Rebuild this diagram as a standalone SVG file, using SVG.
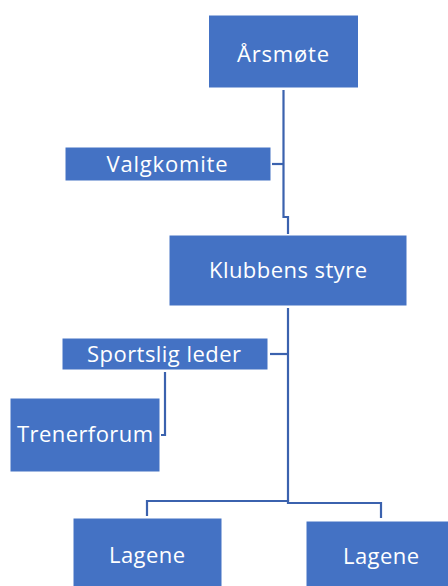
<svg xmlns="http://www.w3.org/2000/svg" width="448" height="586" viewBox="0 0 448 586">
<style>
.box{fill:#4472C4;stroke:#ffffff;stroke-width:1}
.lbl{font-family:"Open Sans","Liberation Sans",sans-serif;font-size:22px;fill:#ffffff;text-anchor:middle}
.con{fill:none;stroke:#3B62AE;stroke-width:2.2}
</style>
<rect width="448" height="586" fill="#ffffff"/>
<g id="connectors">
<path class="con" d="M283.5,90 V217 H288 V234"/>
<path class="con" d="M272,164 H283.5"/>
<path class="con" d="M288,308 V501"/>
<path class="con" d="M270,354 H288"/>
<path class="con" d="M165,372 V435 H161"/>
<path class="con" d="M147,516 V501 H288 V503 H381 V518"/>
</g>
<g id="arsmote"><rect class="box" x="208.5" y="15" width="150" height="73"/><text class="lbl" x="283" y="62" textLength="92">Årsmøte</text></g>
<g id="valgkomite"><rect class="box" x="65" y="147" width="206" height="34"/><text class="lbl" x="167" y="172" textLength="121">Valgkomite</text></g>
<g id="klubbens-styre"><rect class="box" x="169" y="235" width="238" height="71"/><text class="lbl" x="288" y="278" textLength="158">Klubbens styre</text></g>
<g id="sportslig-leder"><rect class="box" x="62" y="338" width="206" height="32"/><text class="lbl" x="164" y="362" textLength="154">Sportslig leder</text></g>
<g id="trenerforum"><rect class="box" x="10" y="398" width="150" height="74"/><text class="lbl" x="85" y="442" textLength="136">Trenerforum</text></g>
<g id="lagene-1"><rect class="box" x="73" y="518" width="149" height="70"/><text class="lbl" x="147" y="563" textLength="76">Lagene</text></g>
<g id="lagene-2"><rect class="box" x="306" y="521" width="145" height="70"/><text class="lbl" x="381" y="564" textLength="76">Lagene</text></g>
</svg>
